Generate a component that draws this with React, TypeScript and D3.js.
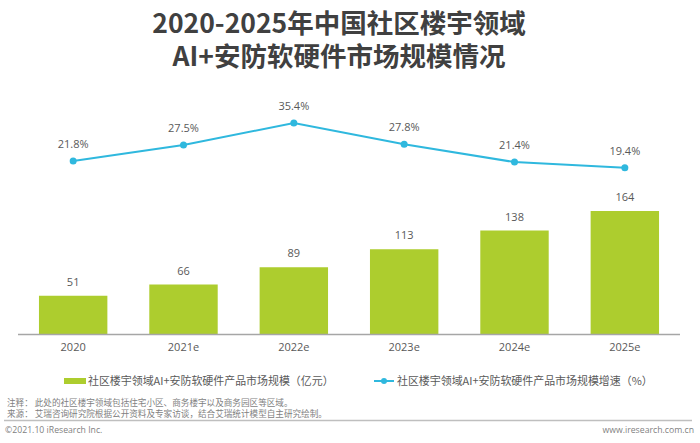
import * as d3 from 'd3';

const years = ['2020', '2021e', '2022e', '2023e', '2024e', '2025e'];
const marketSize = [51, 66, 89, 113, 138, 164];
const growthRate = [21.8, 27.5, 35.4, 27.8, 21.4, 19.4];
const titleLines = ['2020-2025年中国社区楼宇领域', 'AI+安防软硬件市场规模情况'];
const barLegend = '社区楼宇领域AI+安防软硬件产品市场规模（亿元）';
const lineLegend = '社区楼宇领域AI+安防软硬件产品市场规模增速（%）';
const noteLines = [
  '注释：  此处的社区楼宇领域包括住宅小区、商务楼宇以及商务园区等区域。',
  '来源：  艾瑞咨询研究院根据公开资料及专家访谈，结合艾瑞统计模型自主研究绘制。',
];

const width = 700;
const height = 443;
const font = '"Noto Sans CJK SC", "Open Sans", sans-serif';
const latin = '"Open Sans", "Noto Sans CJK SC", sans-serif';
const green = '#adcd2e';
const blue = '#2fb8de';
const textColor = '#595959';

export default function App() {
  const x = d3.scaleBand(years, [18, 680]).paddingInner(0.38).paddingOuter(0.19);
  const yBar = d3.scaleLinear([0, 164], [334, 211]);
  const yLine = d3.scaleLinear([19.4, 35.4], [167.7, 123]);
  const cx = (d: string) => (x(d) ?? 0) + x.bandwidth() / 2;
  const line = d3.line<number>((_, i) => cx(years[i]), (d) => yLine(d));

  return (
    <svg
      width={width}
      height={height}
      viewBox={`0 0 ${width} ${height}`}
      style={{ position: 'absolute', left: 0, top: 0, background: '#fff' }}
    >
      <g fontFamily={font} fontWeight={700} fontSize={26.5} fill="#404040" textAnchor="middle">
        {titleLines.map((t, i) => (
          <text key={t} x={339} y={33 + i * 33}>{t}</text>
        ))}
      </g>

      {marketSize.map((d, i) => (
        <g key={years[i]}>
          <rect x={x(years[i])} y={yBar(d)} width={x.bandwidth()} height={yBar(0) - yBar(d)} fill={green} />
          <text x={cx(years[i])} y={yBar(d) - 10} textAnchor="middle" fontFamily={latin} fontSize={11} fill={textColor}>{d}</text>
          <text x={cx(years[i])} y={351} textAnchor="middle" fontFamily={latin} fontSize={11} fill={textColor}>{years[i]}</text>
        </g>
      ))}
      <line x1={18} x2={680} y1={334.5} y2={334.5} stroke="#a6a6a6" strokeWidth={1.5} />

      <path d={line(growthRate) ?? ''} fill="none" stroke={blue} strokeWidth={2} />
      {growthRate.map((d, i) => (
        <g key={years[i]}>
          <circle cx={cx(years[i])} cy={yLine(d)} r={3.5} fill={blue} />
          <text x={cx(years[i])} y={yLine(d) - 13} textAnchor="middle" fontFamily={latin} fontSize={11} fill={textColor}>{d.toFixed(1)}%</text>
        </g>
      ))}

      <rect x={64} y={378} width={22} height={6} fill={green} />
      <text x={88} y={385} fontFamily={font} fontSize={10.95} fill={textColor}>{barLegend}</text>
      <line x1={374} x2={394} y1={381} y2={381} stroke={blue} strokeWidth={2} />
      <circle cx={384} cy={381} r={3} fill={blue} />
      <text x={397} y={385} fontFamily={font} fontSize={10.95} fill={textColor}>{lineLegend}</text>

      <g fontFamily={font} fontSize={8.6} fill="#7f7f7f">
        {noteLines.map((t, i) => (
          <text key={t} x={7} y={406 + i * 10.5}>{t}</text>
        ))}
      </g>
      <line x1={4} x2={692} y1={420.5} y2={420.5} stroke="#bfbfbf" strokeWidth={1.5} />
      <text x={5} y={433} fontFamily={latin} fontSize={8.7} fill="#7f7f7f">©2021.10 iResearch Inc.</text>
      <text x={694} y={433} textAnchor="end" fontFamily={latin} fontSize={8.7} fill="#7f7f7f">www.iresearch.com.cn</text>
    </svg>
  );
}
